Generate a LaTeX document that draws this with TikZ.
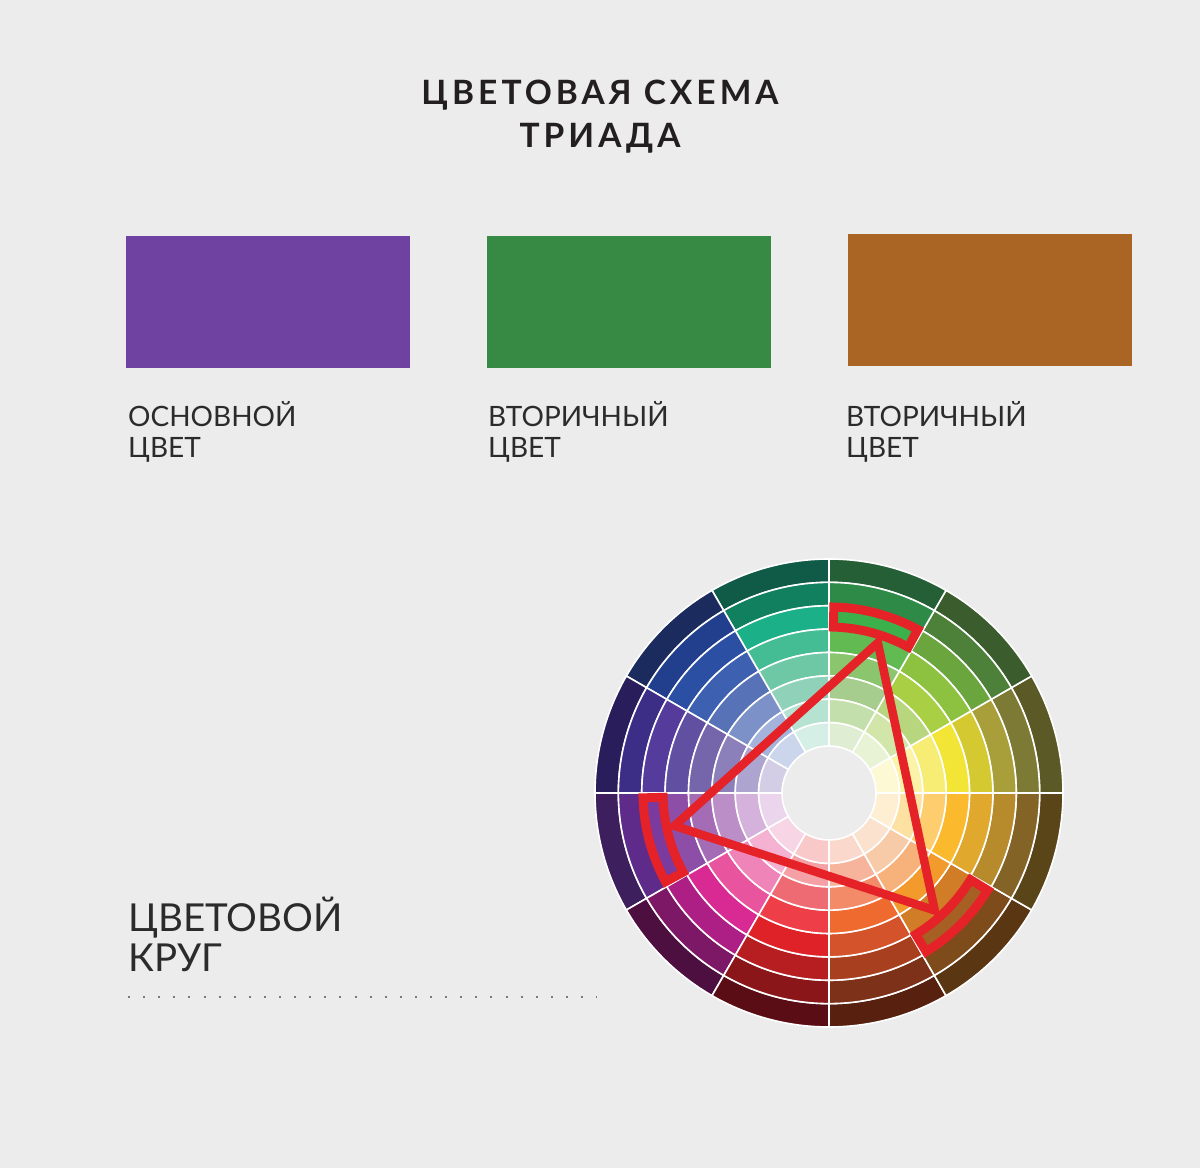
\documentclass[tikz,border=0pt]{standalone}
\usepackage{fontspec}
\setmainfont{Lato}
\newfontfamily\headfont[LetterSpace=12]{Lato}
\usetikzlibrary{positioning}

\definecolor{paper}{HTML}{ECECEC}
\definecolor{ink}{HTML}{2B2B2B}
\definecolor{headink}{HTML}{231F20}
\definecolor{triadred}{HTML}{E52228}
\definecolor{primviolet}{HTML}{6F42A1}
\definecolor{secgreen}{HTML}{368A44}
\definecolor{secbrown}{HTML}{AA6424}
\definecolor{dotgray}{HTML}{7A7A7A}

\begin{document}
\begin{tikzpicture}[x=1pt, y=1pt,
    swatch/.style={minimum width=284pt, minimum height=132pt, inner sep=0pt, outer sep=0pt, anchor=north west},
    caption/.style={anchor=base west, align=left, inner sep=0pt, text=ink, font=\fontsize{28}{31.5}\selectfont},
    title/.style={anchor=base, align=center, inner sep=0pt, text=headink, font=\headfont\bfseries\fontsize{33.5}{43}\selectfont},
    cell/.style={draw=white, line width=1.6pt},
    hilite/.style={draw=triadred, line width=9pt},
    triad/.style={draw=triadred, line width=8.5pt, line join=miter}]

    \fill[paper] (0,0) rectangle (1200,1168);

    % title (base = last line)
    \node[title] (head) at (600,1020) {ЦВЕТОВАЯ СХЕМА\\ТРИАДА};

    % swatches
    \node[swatch, fill=primviolet] (prim) at (126,932) {};
    \node[swatch, fill=secgreen] (secA) at (487,932) {};
    \node[swatch, fill=secbrown] (secB) at (848,934) {};

    \node[caption] (primlbl) at ([xshift=2pt, yshift=-90pt]prim.south west) {ОСНОВНОЙ\\ЦВЕТ};
    \node[caption] (secAlbl) at ([xshift=1pt, yshift=-90pt]secA.south west) {ВТОРИЧНЫЙ\\ЦВЕТ};
    \node[caption] (secBlbl) at ([xshift=-2pt, yshift=-92pt]secB.south west) {ВТОРИЧНЫЙ\\ЦВЕТ};

    % wheel caption
    \node[caption, font=\fontsize{38.5}{40}\selectfont] (wheellbl) at (128,196) {ЦВЕТОВОЙ\\КРУГ};
    \coordinate (dotsL) at (128,171);
    \coordinate (dotsR) at (597,171);
    \draw[dotgray, line width=2pt, dash pattern=on 2pt off 13.1pt] (dotsL) -- (dotsR);

    % colour wheel, outer ring first
    \begin{scope}[shift={(829,375)}]
        \foreach \cols [count=\s from 0] in {
            {5B5A26,7D7A35,A89E3A,D4C930,F3E536,F7EC74,FAF3A8,FDF9D4},
            {3B5C2C,4D8038,6AA63D,8CC23F,A9CF45,B8D67D,D2E6A9,E8F2D4},
            {245F35,2E8B47,3BB04B,62BA53,8BC56D,A6CD8D,C3DFAC,DFEED2},
            {0F5B47,10805F,1BB087,45BD94,6EC8A6,90D2B9,B6E2D2,D6EFE6},
            {1C2B5D,223F8E,2B4FA2,3D61B0,5772B7,7B91C8,A4B3DB,CBD5EC},
            {2A1D5B,3C2D86,543B9C,614FA2,7565AB,8C80BB,ADA4D0,D4CDE6},
            {3D1F5E,5F2B8A,7A3A9E,8C4EA6,A46CB5,BB8EC7,D4B2DB,EBD5EC},
            {4D0F40,7C1865,AE1F85,D92A93,E9549F,EF84B8,F4B1D1,F8D5E5},
            {5A0D14,8A1619,B71E22,DE2228,EE3F48,EF6B74,F4A0A4,F8C9C8},
            {57200F,7C3118,A8401F,D4532A,EF6A2E,F38A68,F7B49C,FAD8CB},
            {5A3613,7E4B1B,A66024,D17C27,F39A2D,F6B27A,F8CBA8,FBE2CF},
            {5A4519,846326,B78A2B,E0A82C,FBB92E,FDCD6E,FDE1A2,FEEFD3}} {
            \foreach \c [count=\k] in \cols {
                \pgfmathsetmacro{\ro}{234-(\k-1)*23.375}
                \pgfmathsetmacro{\ri}{\ro-23.375}
                \definecolor{cellfill}{HTML}{\c}
                \filldraw[cell, fill=cellfill] (\s*30:\ri pt)
                    arc[start angle=\s*30, end angle=\s*30+30, radius=\ri pt]
                    -- (\s*30+30:\ro pt)
                    arc[start angle=\s*30+30, end angle=\s*30, radius=\ro pt] -- cycle;
            }
        }

        % marked cells
        \foreach \a in {60,180,300}
            \draw[hilite] (\a+1.5:166pt)
                arc[start angle=\a+1.5, end angle=\a+28.5, radius=166pt]
                -- (\a+28.5:186pt)
                arc[start angle=\a+28.5, end angle=\a+1.5, radius=186pt] -- cycle;

        \coordinate (tA) at (72:158pt);
        \coordinate (tB) at (192:158pt);
        \coordinate (tC) at (312:158pt);
        \draw[triad] (tA) -- (tB) -- (tC) -- cycle;
    \end{scope}
\end{tikzpicture}
\end{document}
